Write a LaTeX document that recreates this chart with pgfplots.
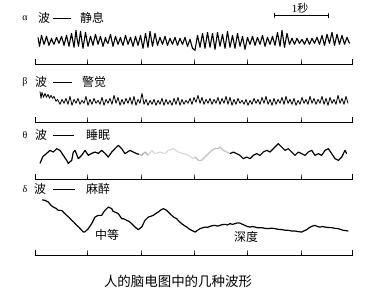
\documentclass[border=0pt]{standalone}
\usepackage{fontspec}
\usepackage{pgfplots}
\pgfplotsset{compat=1.18}
\newfontfamily\cjk{Noto Sans CJK SC}
\newfontfamily\grk{Liberation Serif}
\begin{document}
\begin{tikzpicture}
\begin{axis}[scale only axis, width=375bp, height=297bp,
  xmin=0, xmax=375, ymin=0, ymax=297, y dir=reverse,
  hide axis, clip=false]
\path (axis cs:0,0) rectangle (axis cs:375,297);

% ---------- rulers ----------
\addplot[black, line width=0.9pt, mark=none] coordinates {
(35,59)(35,64)(87,64)(87,59)(87,64)(141,64)(141,59)(141,64)(194,64)(194,59)(194,64)
(247,64)(247,59)(247,64)(301,64)(301,59)(301,64)(352,64)(352,59)};
\addplot[black, line width=0.9pt, mark=none] coordinates {
(35,117)(35,122)(87,122)(87,117)(87,122)(141,122)(141,117)(141,122)(194,122)(194,117)(194,122)
(247,122)(247,117)(247,122)(301,122)(301,117)(301,122)(352,122)(352,117)};
\addplot[black, line width=0.9pt, mark=none] coordinates {
(35,174)(35,179)(87,179)(87,174)(87,179)(141,179)(141,174)(141,179)(194,179)(194,174)(194,179)
(247,179)(247,174)(247,179)(301,179)(301,174)(301,179)(352,179)(352,174)};
\addplot[black, line width=0.9pt, mark=none] coordinates {
(35,250)(35,255)(87,255)(87,250)(87,255)(141,255)(141,250)(141,255)(194,255)(194,250)(194,255)
(247,255)(247,250)(247,255)(301,255)(301,250)(301,255)(352,255)(352,250)};

% ---------- 1 s scale bar ----------
\addplot[black, line width=0.8pt, mark=none] coordinates {
(274,12.5)(274,17.5)(274,15)(328,15)(328,12.5)(328,17.5)};
\node at (axis cs:300,8) {\fontsize{11}{12}\selectfont{\grk 1}{\cjk 秒}};

% ---------- label dashes ----------
\addplot[black, line width=0.7pt, mark=none] coordinates {(53,18)(71,18)};
\addplot[black, line width=0.7pt, mark=none] coordinates {(53,81.5)(72,81.5)};
\addplot[black, line width=0.7pt, mark=none] coordinates {(53,135)(74,135)};
\addplot[black, line width=0.7pt, mark=none] coordinates {(53,189)(75,189)};

% ---------- labels ----------
\node at (axis cs:25,18) {\fontsize{10}{12}\selectfont\grk α};
\node at (axis cs:44,18) {\fontsize{12}{14}\selectfont\cjk 波};
\node[anchor=west, inner sep=0pt] at (axis cs:80,18) {\fontsize{12}{14}\selectfont\cjk 静息};
\node at (axis cs:25,81.5) {\fontsize{10}{12}\selectfont\grk β};
\node at (axis cs:41,81.5) {\fontsize{12}{14}\selectfont\cjk 波};
\node[anchor=west, inner sep=0pt] at (axis cs:82,81.5) {\fontsize{12}{14}\selectfont\cjk 警觉};
\node at (axis cs:25,135) {\fontsize{10}{12}\selectfont\grk θ};
\node at (axis cs:41,135) {\fontsize{12}{14}\selectfont\cjk 波};
\node[anchor=west, inner sep=0pt] at (axis cs:86,135) {\fontsize{12}{14}\selectfont\cjk 睡眠};
\node at (axis cs:25,189) {\fontsize{10}{12}\selectfont\grk δ};
\node at (axis cs:40,189) {\fontsize{12}{14}\selectfont\cjk 波};
\node[anchor=west, inner sep=0pt] at (axis cs:86,189) {\fontsize{12}{14}\selectfont\cjk 麻醉};
\node at (axis cs:107,235) {\fontsize{12}{14}\selectfont\cjk 中等};
\node at (axis cs:246,237) {\fontsize{12}{14}\selectfont\cjk 深度};
\node at (axis cs:178,281) {\fontsize{13.5}{16}\selectfont\cjk 人的脑电图中的几种波形};

% ---------- alpha wave ----------
\addplot[black, line width=1.1pt, mark=none, line join=round] coordinates {
(38,37)(39.5,46)(41.5,35)(44,44)(45,41)(46.5,36)(49,45)(51.5,38)(52.5,41)(54,44)(56.5,37)(59,43)
(61.5,36)(63,41)(64,45)(66.5,35)(69,46)(71.5,33)(74,47)(76,30)(77,38)(78.5,46)(80.5,31)(83,48)
(85.5,32)(88,46)(90.5,36)(93,45)(94,40)(95.5,34)(98,44)(100.5,36)(103,46)(105.5,37)(106.5,41)(108,43)
(110.5,34)(113,46)(115.5,36)(118,44)(120.5,37)(121.5,41)(123,45)(125.5,35)(128,44)(130.5,37)(133,46)
(135.5,36)(138,45)(140.5,35)(143,48)(145.5,33)(148,47)(150,31)(152.5,46)(155,33)(157.5,45)
(160,37)(161,40)(162.5,44)(165,36)(167.5,45)(170,38)(172.5,44)(173.5,41)(175,37)(177.5,45)(180,38)(182.5,44)
(185,37)(187.5,46)(190,39)(192.5,48)(195,50)(197.5,35)(200,47)(202.5,33)(205,48)(207.5,32)
(210,47)(212.5,33)(215,49)(217.5,32)(220,46)(222.5,34)(225,48)(227.5,31)(230,47)(232.5,35)
(235,48)(237.5,33)(240,46)(242.5,36)(245,49)(247.5,37)(248.5,40)(250,44)(252.5,36)(255,45)(257.5,37)
(260,44)(262.5,35)(265,46)(267.5,37)(270,44)(272.5,36)(275,45)(277.5,32)(280,46)(282,30)
(284.5,47)(287,33)(289.5,44)(292,38)(294.5,44)(297,38)(299.5,43)(302,39)(304.5,44)(307,38)
(309.5,44)(312,38)(314.5,43)(317,37)(319.5,44)(322,35)(324.5,45)(327,34)(329.5,43)(332,32)
(334.5,45)(337,34)(339.5,44)(342,35)(344.5,44)(347,37)(349,42)(350,43)};

% ---------- beta wave ----------
\addplot[black, line width=0.8pt, mark=none, line join=round] coordinates {
(40,91)(41,98)(42,92)(43.5,97)(45,93)(46.5,97)(48,94)(49.5,98)(51,95)(52.5,98)(54,96)(56,101)(57.5,99)
(60,104)(62,99)(64,103)(66,98)(68,104)(70,96)(72,105)(74,99)(76,103)(78,98)(80,104)(82,100)
(84,103)(86,96)(88,105)(90,99)(92,104)(94,98)(96,103)(98,100)(100,104)(102,97)(104,105)(106,99)
(108,103)(110,98)(112,104)(114,95)(116,103)(118,97)(120,105)(122,99)(124,104)(126,98)(128,103)(130,97)
(132,104)(134,96)(136,105)(138,99)(140,103)(142,93)(144,104)(146,99)(148,105)(150,100)(152,104)(154,99)
(156,105)(158,100)(160,104)(162,98)(164,105)(166,99)(168,104)(170,100)(172,105)(174,98)(176,104)(178,97)
(180,105)(182,99)(184,104)(186,100)(188,103)(190,98)(192,104)(194,97)(196,102)(198,95)(200,103)(202,97)
(204,104)(206,99)(208,103)(210,98)(212,104)(214,99)(216,103)(218,97)(220,104)(222,98)(224,103)(226,96)
(228,104)(230,97)(232,105)(234,99)(236,104)(238,98)(240,103)(242,100)(244,104)(246,99)(248,105)(250,100)
(252,104)(254,98)(256,103)(258,99)(260,104)(262,97)(264,103)(266,96)(268,104)(270,99)(272,105)(274,98)
(276,104)(278,99)(280,103)(282,97)(284,104)(286,96)(288,103)(290,99)(292,104)(294,98)(296,105)(298,100)
(300,104)(302,97)(304,103)(306,99)(308,104)(310,96)(312,103)(314,98)(316,104)(318,99)(320,103)(322,96)
(324,104)(326,98)(328,105)(330,97)(332,103)(334,99)(336,104)(338,95)(340,103)(342,98)(344,104)(346,96)(348,103)};

% ---------- theta wave ----------
\addplot[black, line width=1.2pt, mark=none, line join=round] coordinates {
(40,163)(43,156)(46.7,153)(50,150)(53.3,151.7)(56.7,148.3)(60,150)(63.3,155)(66.7,160)(68.3,163)
(71.7,160)(73.3,151.7)(75,150)(78.3,158.3)(81.7,155)(85,150)(88.3,155)(91.7,153)(95,151.7)(98.3,153)
(101.7,150)(105,153)(108.3,156.7)(111.7,151.7)(115,148.3)(118.3,145)(121.7,148.3)(125,153.3)(130,150)(133.3,151.7)(136.7,153.3)(139,154)};
\addplot[gray!60, line width=1.2pt, mark=none, line join=round] coordinates {
(139,154)(141.7,155)(145,151.7)(148.3,155)};
\addplot[gray!30, line width=1.2pt, mark=none, line join=round] coordinates {
(148.3,155)(151.7,150)(155,153.3)(160,151.7)(165,153.3)(168.3,150)(173.3,148.3)(178.3,151.7)(183.3,153.3)(188.3,155)(193.3,158.3)(195,156.7)};
\addplot[gray!50, line width=1.2pt, mark=none, line join=round] coordinates {
(195,156.7)(198.3,160)(201.7,160)(205,156.7)(208.3,153.3)(211.7,150)(215,148.3)(218.3,148.3)(220,146.7)(223.3,150)(226.7,151.7)(230,153.3)};
\addplot[black, line width=1.2pt, mark=none, line join=round] coordinates {
(230,153.3)(233.3,151.7)(236.7,153.3)(240,155)(243.3,158.3)(246.7,156.7)(250,158.3)(253.3,155)(256.7,153.3)(260,155)
(263.3,151.7)(266.7,150)(270,151.7)(273.3,148.3)(278.3,143.3)(281.7,146.7)(285,150)(288.3,148.3)(291.7,151.7)(295,155)
(298.3,151.7)(301.7,153.3)(305,155)(308.3,151.7)(311.7,150)(315,155)(318.3,153.3)(321.7,155)(325,150)(328.3,148.3)
(331.7,153.3)(335,158.3)(338.3,160)(341.7,156.7)(345,150)(346.7,153.3)};

% ---------- delta wave ----------
\addplot[black, line width=1.2pt, mark=none, line join=round] coordinates {
(42,199.5)(45,200)(48.3,201.7)(51,205)(53.3,206.7)(56,208)(58.3,210)(61.7,210)(64,212.5)(66.7,215)
(69,217)(71.7,220)(74,222)(76.7,225)(79,227)(81.7,230)(83.5,231.7)(85,231.5)(88.3,228.3)(91.7,223.3)
(95,216.7)(98.3,215)(101.7,215)(103.5,212)(105,210)(108.3,206.7)(111.7,208.3)(113,211)(115,211.7)(118.3,213.3)
(121.7,218.3)(124,218.5)(126.7,220)(129,221)(131.7,223.3)(135,226.7)(138.3,229.3)(141.7,226.7)(145,220)(148.3,216.7)
(150.5,216)(153.3,215)(156,213)(158.3,211.7)(161,209.5)(163.3,208.3)(166.7,210)(169,212.5)(171.7,215)(174,217)(176.7,218.3)
(179,221)(181.7,223.3)(184,225)(186.7,226.7)(189,228.5)(191.7,230)(195,231.7)(197.5,230)(200,228.3)(202.5,227.5)
(205,226.7)(207.5,227)(210,226)(212.5,225.3)(215,225)(217.5,225.8)(220,225)(222.5,224.2)(225,224)(227.5,224.6)
(230,223.3)(232.5,224)(235,223.3)(237.5,222.5)(240,222.7)(242.5,224)(245,225)(247.5,226.2)(250,226.7)(252.5,226.2)
(255,226.7)(258,227.5)(261.7,227.3)(265,228)(268.3,228.3)(271.5,227.8)(275,228.3)(278.5,229)(281.7,229.3)(285,229.8)
(288.3,230)(291.5,230.6)(295,230.7)(298.5,231.3)(301.7,231.7)(304,230.5)(306.7,229.3)(309,227.5)(311.7,226)(313.5,225.4)
(315,225)(317.5,226.2)(320,226.7)(322.5,226.2)(325,226.7)(328.5,227.2)(331.7,227.3)(335,228)(338.3,228.3)(341,229.2)
(343.3,230)(346,230.3)(348.3,230.7)};

\end{axis}
\end{tikzpicture}
\end{document}
